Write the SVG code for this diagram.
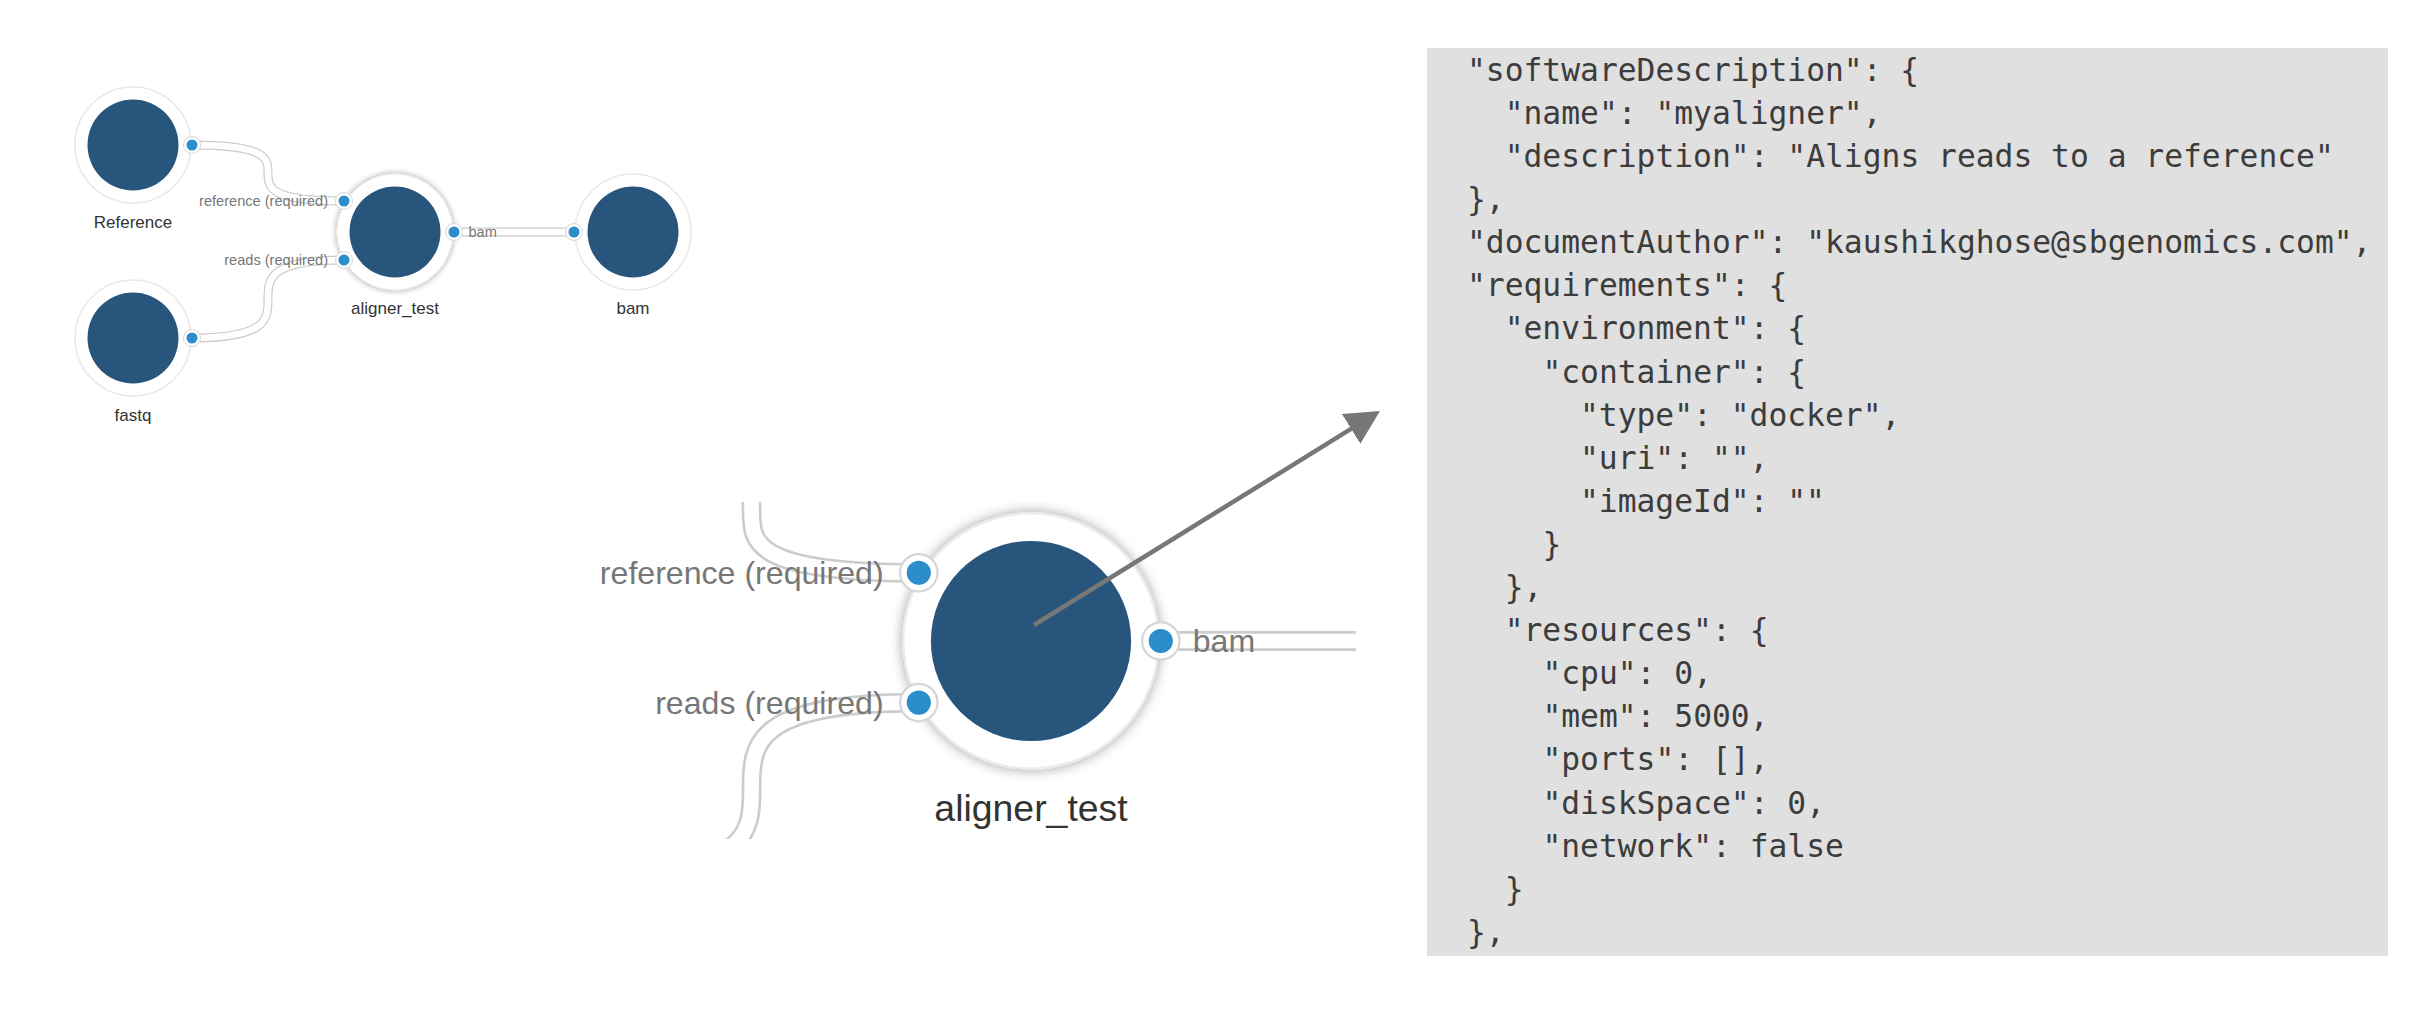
<svg xmlns="http://www.w3.org/2000/svg" width="2422" height="1028" viewBox="0 0 2422 1028">
<style>
.halo{fill:#fff;stroke:#e8e8e8;stroke-width:1.5}
.halo-sel{fill:#fff;stroke:#ececec;stroke-width:1}
.core{fill:#28557b}
.ring{fill:#fff;stroke:#d6d6d6;stroke-width:1}
.dot{fill:#2b8dca}
.pipe-o{fill:none;stroke:#cccccc;stroke-width:9}
.pipe-i{fill:none;stroke:#ffffff;stroke-width:6.6}
.nlabel{font-family:"Liberation Sans",Arial,sans-serif;font-size:17px;fill:#333;text-anchor:middle}
.plabel{font-family:"Liberation Sans",Arial,sans-serif;font-size:14.6px;fill:#777}
.plabel-l{text-anchor:end}
.code{font-family:"DejaVu Sans Mono",monospace;font-size:31.3px;fill:#3c3c3c}
.pointer{stroke:#777;stroke-width:4.5;fill:none}
</style>
<defs>
<filter id="shadow" x="-40%" y="-40%" width="180%" height="180%">
<feGaussianBlur in="SourceAlpha" stdDeviation="3"/>
<feComponentTransfer><feFuncA type="linear" slope="0.38"/></feComponentTransfer>
<feMerge><feMergeNode/><feMergeNode in="SourceGraphic"/></feMerge>
</filter>
<clipPath id="zoomClip"><rect x="595" y="502" width="761" height="337"/></clipPath>
<marker id="arrowhead" markerUnits="userSpaceOnUse" viewBox="0 0 36 36" markerWidth="36" markerHeight="36" refX="26" refY="17.5" orient="auto">
<path d="M0,0 L34,17.5 L0,35 z" fill="#777"/>
</marker>
</defs>
<rect width="2422" height="1028" fill="#fff"/>

<!-- Overview graph -->
<g id="overview">
<g id="connectors">
<path class="pipe-o" d="M192,145 C344,145 192,201 344,201"/>
<path class="pipe-i" d="M192,145 C344,145 192,201 344,201"/>
<path class="pipe-o" d="M192,338 C344,338 192,260 344,260"/>
<path class="pipe-i" d="M192,338 C344,338 192,260 344,260"/>
<path class="pipe-o" d="M454,232 L574,232"/>
<path class="pipe-i" d="M454,232 L574,232"/>
</g>
<g id="node-reference">
<circle class="halo" cx="133" cy="145" r="58"/>
<circle class="core" cx="133" cy="145" r="45.5"/>
<circle class="ring" cx="192" cy="145" r="8.5"/>
<circle class="dot" cx="192" cy="145" r="5.5"/>
<text class="nlabel" x="133" y="228">Reference</text>
</g>
<g id="node-fastq">
<circle class="halo" cx="133" cy="338" r="58"/>
<circle class="core" cx="133" cy="338" r="45.5"/>
<circle class="ring" cx="192" cy="338" r="8.5"/>
<circle class="dot" cx="192" cy="338" r="5.5"/>
<text class="nlabel" x="133" y="421">fastq</text>
</g>
<g id="node-aligner_test">
<circle class="halo-sel" cx="395" cy="232" r="58" filter="url(#shadow)"/>
<circle class="core" cx="395" cy="232" r="45.5"/>
<circle class="ring" cx="344" cy="201" r="8.5"/>
<circle class="dot" cx="344" cy="201" r="5.5"/>
<circle class="ring" cx="344" cy="260" r="8.5"/>
<circle class="dot" cx="344" cy="260" r="5.5"/>
<circle class="ring" cx="454" cy="232" r="8.5"/>
<circle class="dot" cx="454" cy="232" r="5.5"/>
<text class="plabel plabel-l" x="328" y="206">reference (required)</text>
<text class="plabel plabel-l" x="328" y="265">reads (required)</text>
<text class="plabel" x="468.5" y="237">bam</text>
<text class="nlabel" x="395" y="314">aligner_test</text>
</g>
<g id="node-bam">
<circle class="halo" cx="633" cy="232" r="58"/>
<circle class="core" cx="633" cy="232" r="45.5"/>
<circle class="ring" cx="574" cy="232" r="8.5"/>
<circle class="dot" cx="574" cy="232" r="5.5"/>
<text class="nlabel" x="633" y="314">bam</text>
</g>
</g>

<!-- Magnified view of aligner_test -->
<g id="zoom-view" clip-path="url(#zoomClip)">
<g transform="translate(162,130.6) scale(2.2)">
<g id="zoom-connectors">
<path class="pipe-o" d="M192,145 C344,145 192,201 344,201"/>
<path class="pipe-i" d="M192,145 C344,145 192,201 344,201"/>
<path class="pipe-o" d="M192,338 C344,338 192,260 344,260"/>
<path class="pipe-i" d="M192,338 C344,338 192,260 344,260"/>
<path class="pipe-o" d="M454,232 L574,232"/>
<path class="pipe-i" d="M454,232 L574,232"/>
</g>
<g id="zoom-node-aligner_test">
<circle class="halo-sel" cx="395" cy="232" r="58" filter="url(#shadow)"/>
<circle class="core" cx="395" cy="232" r="45.5"/>
<circle class="ring" cx="344" cy="201" r="8.5"/>
<circle class="dot" cx="344" cy="201" r="5.5"/>
<circle class="ring" cx="344" cy="260" r="8.5"/>
<circle class="dot" cx="344" cy="260" r="5.5"/>
<circle class="ring" cx="454" cy="232" r="8.5"/>
<circle class="dot" cx="454" cy="232" r="5.5"/>
<text class="plabel plabel-l" x="328" y="206">reference (required)</text>
<text class="plabel plabel-l" x="328" y="265">reads (required)</text>
<text class="plabel" x="468.5" y="237">bam</text>
<text class="nlabel" x="395" y="314">aligner_test</text>
</g>
</g>
</g>

<!-- Pointer arrow -->
<g id="pointer-arrow">
<line class="pointer" x1="1034" y1="625" x2="1373.2" y2="415.2" marker-end="url(#arrowhead)"/>
</g>

<!-- JSON panel -->
<g id="json-panel">
<rect x="1427" y="48" width="961" height="908" fill="#e0e0e0"/>
<text class="code" x="1467" y="80.8">"softwareDescription": {</text>
<text class="code" x="1504.7" y="123.9">"name": "myaligner",</text>
<text class="code" x="1504.7" y="167">"description": "Aligns reads to a reference"</text>
<text class="code" x="1467" y="210.1">},</text>
<text class="code" x="1467" y="253.2">"documentAuthor": "kaushikghose@sbgenomics.com",</text>
<text class="code" x="1467" y="296.3">"requirements": {</text>
<text class="code" x="1504.7" y="339.4">"environment": {</text>
<text class="code" x="1542.4" y="382.5">"container": {</text>
<text class="code" x="1580" y="425.6">"type": "docker",</text>
<text class="code" x="1580" y="468.7">"uri": "",</text>
<text class="code" x="1580" y="511.8">"imageId": ""</text>
<text class="code" x="1542.4" y="554.9">}</text>
<text class="code" x="1504.7" y="598">},</text>
<text class="code" x="1504.7" y="641.1">"resources": {</text>
<text class="code" x="1542.4" y="684.2">"cpu": 0,</text>
<text class="code" x="1542.4" y="727.3">"mem": 5000,</text>
<text class="code" x="1542.4" y="770.4">"ports": [],</text>
<text class="code" x="1542.4" y="813.5">"diskSpace": 0,</text>
<text class="code" x="1542.4" y="856.6">"network": false</text>
<text class="code" x="1504.7" y="899.7">}</text>
<text class="code" x="1467" y="942.8">},</text>
</g>
</svg>
